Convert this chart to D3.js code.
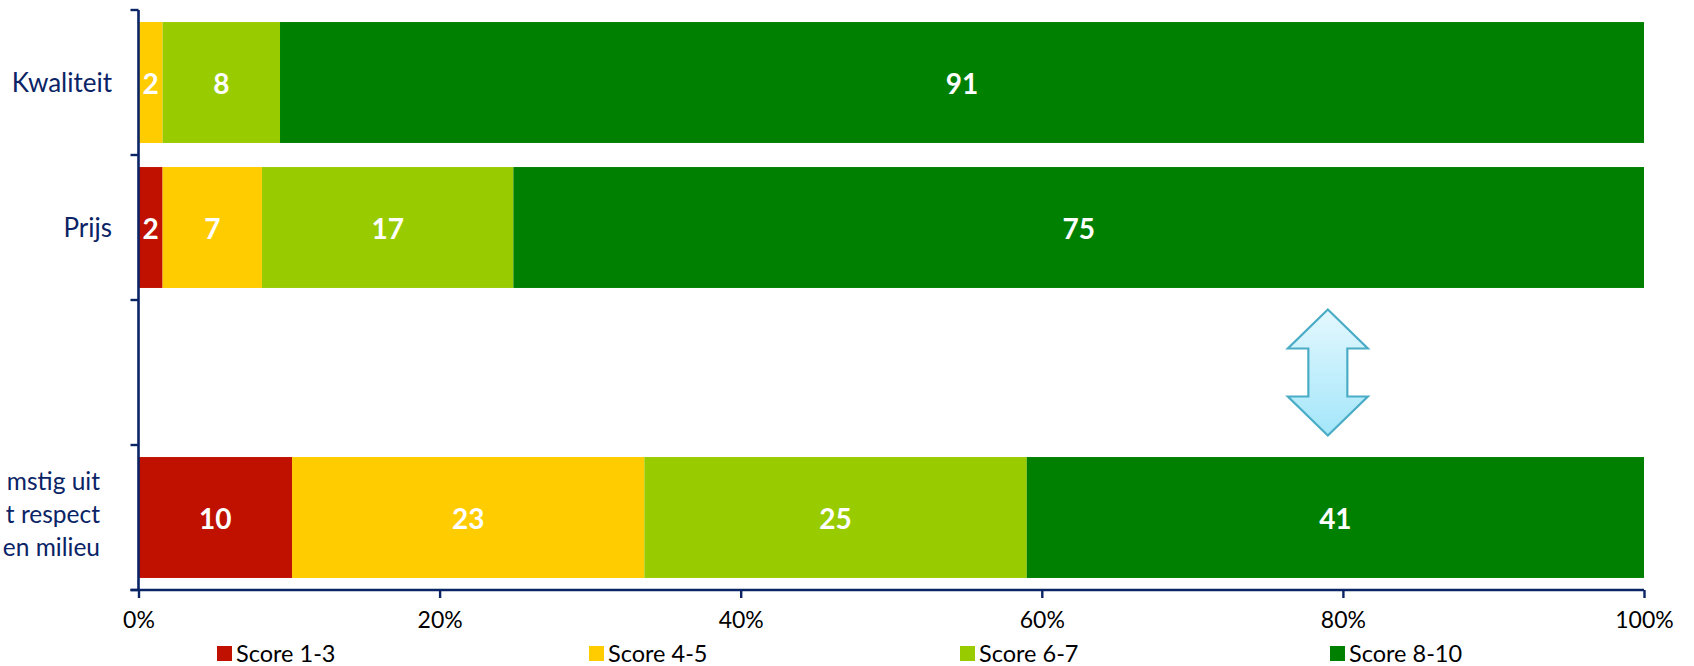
<!DOCTYPE html>
<html>
<head>
<meta charset="utf-8">
<script src="https://cdn.jsdelivr.net/npm/d3@7"></script>
<style>
  html, body { margin: 0; padding: 0; background: #ffffff; }
  svg { display: block; }
</style>
</head>
<body>
<svg id="chart" width="1694" height="666"></svg>
<script>
// ---- data ----
const categories = ["Kwaliteit", "Prijs", "leeg", "milieu"];
const categoryLabels = [["Kwaliteit"], ["Prijs"], [], ["mstig uit", "t respect", "en milieu"]];
const seriesNames = ["Score 1-3", "Score 4-5", "Score 6-7", "Score 8-10"];
const score13 = [0, 1.6, 0, 10.2];
const score45 = [1.6, 6.6, 0, 23.4];
const score67 = [7.8, 16.7, 0, 25.4];
const score810 = [90.6, 75.1, 0, 41.0];
const xTicks = [0, 0.2, 0.4, 0.6, 0.8, 1.0];
const arrowCategory = "leeg";
const arrowPosition = 0.79;

(function () {
const colors = ["#C01100", "#FFCC00", "#99CC00", "#008000"];
const navy = "#0B2466";

// ---- build table ----
const seriesValues = [score13, score45, score67, score810];
const table = categories.map((c, i) => {
  const row = { cat: c };
  seriesNames.forEach((s, j) => row[s] = seriesValues[j][i]);
  return row;
});

const svg = d3.select("#chart");
const pL = 138.5, pR = 1644, pT = 10, pB = 590;

const x = d3.scaleLinear().domain([0, 1]).range([pL, pR]);
const pad = 0.166;
const y = d3.scaleBand().domain(categories).range([pT, pB]).paddingInner(pad).paddingOuter(pad / 2);

const stack = d3.stack().keys(seriesNames).offset(d3.stackOffsetExpand);
const stacked = stack(table.filter(d => seriesNames.some(s => d[s] > 0)));

const font = "Lato, 'Open Sans', sans-serif";

// bars
const g = svg.append("g");
stacked.forEach((layer, j) => {
  g.append("g").selectAll("rect").data(layer).join("rect")
    .attr("x", d => x(d[0]))
    .attr("y", d => y(d.data.cat))
    .attr("width", d => Math.max(0, x(d[1]) - x(d[0])))
    .attr("height", y.bandwidth())
    .attr("fill", colors[j]);
  g.append("g").selectAll("text").data(layer.filter(d => d.data[seriesNames[j]] > 0)).join("text")
    .attr("x", d => (x(d[0]) + x(d[1])) / 2)
    .attr("y", d => y(d.data.cat) + y.bandwidth() / 2)
    .attr("text-anchor", "middle")
    .attr("dominant-baseline", "central")
    .attr("fill", "#ffffff")
    .attr("font-family", font)
    .attr("font-weight", "bold")
    .attr("font-size", 28)
    .text(d => Math.round(d.data[seriesNames[j]]));
});

// arrow (decoration) in the empty band
const defs = svg.append("defs");
const grad = defs.append("linearGradient").attr("id", "arrowGrad").attr("x1", 0).attr("y1", 0).attr("x2", 0).attr("y2", 1);
grad.append("stop").attr("offset", "0%").attr("stop-color", "#E4F8FE");
grad.append("stop").attr("offset", "100%").attr("stop-color", "#A3E6FA");
const acx = x(arrowPosition), acy = y(arrowCategory) + y.bandwidth() / 2;
const arrowPts = [[0,-63],[40,-24],[19.5,-24],[19.5,24],[40,24],[0,63],[-40,24],[-19.5,24],[-19.5,-24],[-40,-24]];
svg.append("path")
  .attr("d", d3.line()(arrowPts.map(p => [acx + p[0], acy + p[1]])) + "Z")
  .attr("fill", "url(#arrowGrad)")
  .attr("stroke", "#4BACC6")
  .attr("stroke-width", 2.2)
  .attr("stroke-linejoin", "miter");

// y axis line with boundary ticks
const step = y.step();
const boundaries = categories.map(c => y(c) - step * pad / 2).concat([pB]);
const axisG = svg.append("g");
axisG.append("line").attr("x1", pL).attr("x2", pL).attr("y1", pT).attr("y2", pB)
  .attr("stroke", navy).attr("stroke-width", 2.6);
axisG.selectAll("line.yt").data(boundaries).join("line").attr("class", "yt")
  .attr("x1", pL - 8).attr("x2", pL).attr("y1", d => d).attr("y2", d => d)
  .attr("stroke", navy).attr("stroke-width", 2.4);

// category labels
categories.forEach((c, i) => {
  const lines = categoryLabels[i];
  if (!lines.length) return;
  const cy = y(c) + y.bandwidth() / 2;
  const lh = 33;
  const multi = lines.length > 1;
  const anchorX = multi ? 100 : 112;
  lines.forEach((t, k) => {
    axisG.append("text")
      .attr("x", anchorX)
      .attr("y", cy + (k - (lines.length - 1) / 2) * lh - (multi ? 4 : 1))
      .attr("text-anchor", "end")
      .attr("dominant-baseline", "central")
      .attr("fill", navy)
      .attr("font-family", font)
      .attr("font-size", multi ? 24.5 : 26)
      .text(t);
  });
});

// x axis
const xAxis = d3.axisBottom(x).tickValues(xTicks).tickFormat(d3.format(".0%")).tickSize(8).tickPadding(14);
const xg = svg.append("g").attr("transform", `translate(0,${pB})`).call(xAxis);
xg.select(".domain").attr("stroke", navy).attr("stroke-width", 2.6).attr("d", `M${pL - 8},0H${pR}`);
xg.selectAll(".tick line").attr("stroke", navy).attr("stroke-width", 2.4);
xg.selectAll(".tick text").attr("fill", "#000").attr("font-family", font).attr("font-size", 23);

// legend
const legendX = [217, 589, 960, 1330];
const lg = svg.append("g");
seriesNames.forEach((s, j) => {
  lg.append("rect").attr("x", legendX[j]).attr("y", 646).attr("width", 15).attr("height", 15).attr("fill", colors[j]);
  lg.append("text").attr("x", legendX[j] + 19).attr("y", 653)
    .attr("dominant-baseline", "central")
    .attr("fill", "#000")
    .attr("font-family", font)
    .attr("font-size", 23.5)
    .text(s);
});
})();
</script>
</body>
</html>
